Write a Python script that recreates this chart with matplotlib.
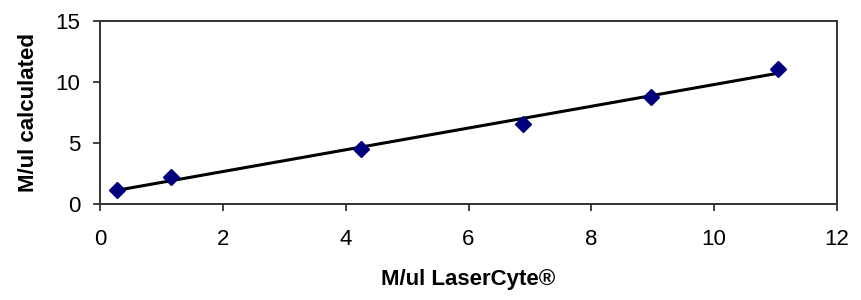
import matplotlib
matplotlib.use("Agg")
import matplotlib.pyplot as plt
import numpy as np

# values
laser = [0.28, 1.15, 4.25, 6.88, 8.97, 11.04]
calculated = [1.15, 2.2, 4.5, 6.55, 8.8, 11.1]

plt.rcParams['font.family'] = ['Liberation Sans', 'DejaVu Sans']


def main():
    fig = plt.figure(figsize=(8.62, 3.0), dpi=100)
    ax = fig.add_axes([100 / 862, 1 - 204 / 300, 737 / 862, 183 / 300])

    # linear trend line over the data range
    slope, icpt = np.polyfit(laser, calculated, 1)
    xs = np.array([min(laser), max(laser)])
    ax.plot(xs, slope * xs + icpt, color='black', lw=2.2, zorder=2)
    ax.plot(laser, calculated, linestyle='none', marker='D', markersize=8,
            color='#00007f', zorder=3)

    ax.set_xlim(0, 12)
    ax.set_ylim(0, 15)
    ax.set_xticks(range(0, 13, 2))
    ax.set_yticks(range(0, 16, 5))
    ax.tick_params(labelsize=16, length=5, width=1.3, color='#333333', pad=9)
    ax.tick_params(axis='x', pad=13)
    for s in ax.spines.values():
        s.set_linewidth(1.4)
        s.set_color('#333333')

    ax.set_xlabel('M/ul LaserCyte®', fontsize=16, fontweight='bold', labelpad=14)
    ax.set_ylabel('M/ul calculated', fontsize=16, fontweight='bold', labelpad=12)

    fig.savefig("out.png", dpi=100)


if __name__ == "__main__":
    main()
